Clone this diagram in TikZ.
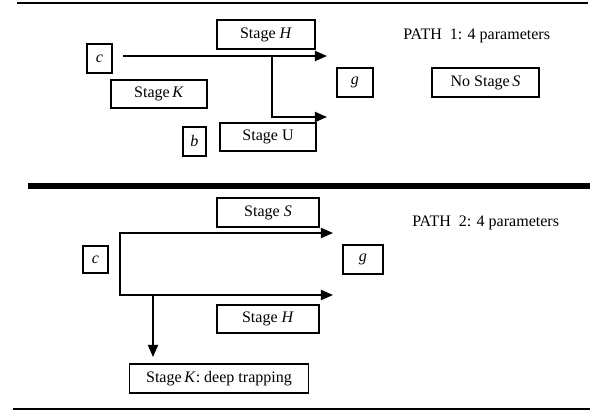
\documentclass[tikz,border=0pt]{standalone}
\usepackage{fontspec}
\setmainfont{Liberation Serif}
\usetikzlibrary{arrows.meta,positioning}

\begin{document}
\begin{tikzpicture}[
			x=0.025cm,
			y=-0.025cm,
			box/.style={
				draw,
				line width=1.3pt,
				minimum height=0.725cm,
				inner sep=0pt,
				align=center,
				font=\fontsize{11.4}{13}\selectfont
			},
			letter/.style={box,minimum width=0.625cm},
			caption/.style={inner sep=0pt,anchor=base west,font=\fontsize{11.4}{13}\selectfont},
			arrow/.style={-{Triangle[length=0.3cm,width=0.25cm]},line width=1.3pt},
			fork/.style={{Triangle[length=0.3cm,width=0.25cm]}-{Triangle[length=0.3cm,width=0.25cm]},line width=1.3pt,line join=miter}
			]
			
			\useasboundingbox (0,0) rectangle (600,414);
			
			\draw[line width=2.1pt] (17,3) -- (588,3);
			\draw[line width=3.9pt] (28,186) -- (590,186);
			\draw[line width=1.4pt] (13,409) -- (590,409);
			
			\node[box,minimum width=2.45cm] (stageH1) at (266,34.5) {Stage \textit{H}};
			\node[caption] (path1) at (403,39) {PATH\ \ 1: 4 parameters};
			\node[letter] (c1) at (99.5,58.5) {\textit{c}};
			\node[letter,minimum width=0.9cm] (g1) at (355,82.5) {\textit{g}};
			\node[box,minimum width=2.675cm] (noS) at (485.5,82.5) {No Stage\,\textit{S}};
			\node[box,minimum width=2.4cm,minimum height=0.7cm] (stageK1) at (159,94) {Stage\,\textit{K}};
			\node[letter,minimum width=0.575cm] (b1) at (194.5,141.5) {\textit{b}};
			\node[box,minimum width=2.4cm,minimum height=0.7cm] (stageU) at (268,137) {Stage U};
			
			\coordinate (from1) at (123,56);
			\coordinate (to1) at (327,56);
			\coordinate (split1) at (272,56);
			\coordinate (to2) at (327,117);
			
			\draw[arrow] (from1) -- (to1);
			\draw[arrow,line join=miter] (split1) |- (to2);
			
			\node[box,minimum width=2.55cm] (stageS) at (268,212.5) {Stage \textit{S}};
			\node[caption] (path2) at (412,226) {PATH\ \ 2: 4 parameters};
			\node[letter,minimum height=0.675cm] (c2) at (95.5,259.5) {\textit{c}};
			\node[letter,minimum width=1.0cm] (g2) at (363,259.5) {\textit{g}};
			\node[box,minimum width=2.55cm,minimum height=0.7cm] (stageH2) at (268,319) {Stage \textit{H}};
			\node[box,minimum width=4.475cm] (deep) at (219,378.5) {Stage\,\textit{K}: deep trapping};
			
			\coordinate (up2) at (333,233);
			\coordinate (top2) at (120,233);
			\coordinate (bot2) at (120,295);
			\coordinate (low2) at (333,295);
			\coordinate (drop2) at (153,295);
			\coordinate (deepin) at (153,357);
			
			\draw[fork] (up2) -- (top2) -- (bot2) -- (low2);
			\draw[arrow] (drop2) -- (deepin);
			
		\end{tikzpicture}
\end{document}
